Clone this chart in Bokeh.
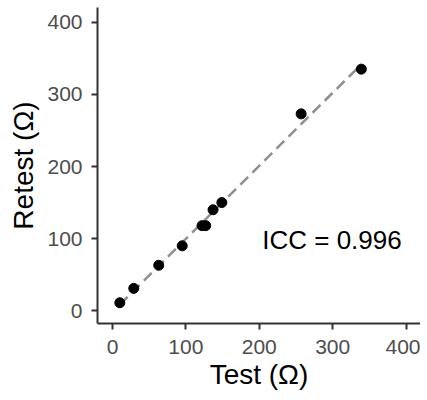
import numpy as np
from bokeh.plotting import figure
from bokeh.models import Range1d, FixedTicker, Label
from bokeh.embed import file_html
from bokeh.resources import INLINE

# Data
test = [10, 29, 63, 95, 122, 127, 137, 149, 257, 339]
retest = [11, 31, 63, 90, 118, 118, 140, 150, 273, 335]
ticks = [0, 100, 200, 300, 400]
icc_label = "ICC = 0.996"

FONT = "Liberation Sans"

p = figure(width=420, height=392, output_backend="svg", toolbar_location=None,
           x_range=Range1d(-20.4, 419.6), y_range=Range1d(-17.7, 420.5),
           min_border_left=97, min_border_right=0, min_border_top=7, min_border_bottom=64)

p.grid.visible = False
p.outline_line_color = None
p.background_fill_color = "white"

# regression line over observed range
m, b = np.polyfit(test, retest, 1)
xs = [min(test), max(test)]
ys = [m * x + b for x in xs]
p.line(xs, ys, line_color="#8f8f8f", line_width=2.5, line_dash="11 6")

p.scatter(test, retest, size=10, color="black")

p.add_layout(Label(x=204, y=98, text=icc_label, text_font=FONT, text_font_size="26px",
                   text_color="black", text_align="left", text_baseline="middle"))

for ax in (p.xaxis[0], p.yaxis[0]):
    ax.ticker = FixedTicker(ticks=ticks)
    ax.minor_tick_line_color = None
    ax.axis_line_color = "#333333"
    ax.axis_line_width = 2
    ax.major_tick_line_color = "#333333"
    ax.major_tick_line_width = 2
    ax.major_tick_out = 6
    ax.major_tick_in = 0
    ax.major_label_text_font = FONT
    ax.major_label_text_font_size = "21px"
    ax.major_label_text_color = "#4d4d4d"
    ax.axis_label_text_font = FONT
    ax.axis_label_text_font_size = "28px"
    ax.axis_label_text_font_style = "normal"
    ax.axis_label_text_color = "black"

p.xaxis.axis_label = "Test (Ω)"
p.yaxis.axis_label = "Retest (Ω)"
p.xaxis.major_label_standoff = 10
p.yaxis.major_label_standoff = 9
p.xaxis.axis_label_standoff = 2
p.yaxis.axis_label_standoff = 5

open("out.html", "w").write(file_html(p, INLINE))
